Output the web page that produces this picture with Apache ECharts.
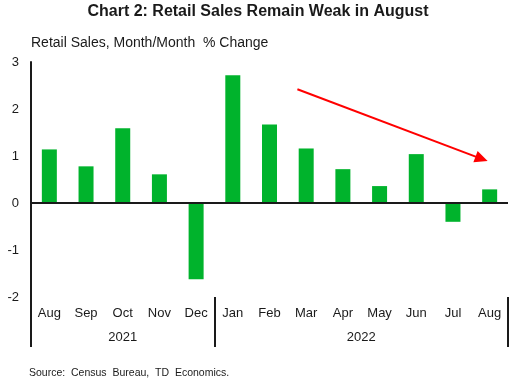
<!DOCTYPE html>
<html>
<head>
<meta charset="utf-8">
<script src="https://cdn.jsdelivr.net/npm/echarts@6/dist/echarts.min.js"></script>
<style>html,body{margin:0;padding:0;background:#fff;}#c{width:516px;height:385px;}</style>
</head>
<body>
<div id="c"></div>
<script>
const months = ['Aug','Sep','Oct','Nov','Dec','Jan','Feb','Mar','Apr','May','Jun','Jul','Aug'];
const values = [1.14, 0.78, 1.59, 0.61, -1.62, 2.72, 1.67, 1.16, 0.72, 0.36, 1.04, -0.40, 0.29];
const years = ['2021', '2022'];
const yearCenters = [2, 8.5];
const yearBounds = [-0.5, 4.5, 12.5];
const arrowStart = [6.76, 2.42];
const arrowEnd = [11.78, 0.94];
const yTicks = { min: -2, max: 3, interval: 1 };

const dark = '#1a1a1a';
const font = 'Arial, "Liberation Sans", sans-serif';
const chart = echarts.init(document.getElementById('c'));
chart.setOption({
  animation: false,
  backgroundColor: '#fff',
  title: [
    { text: 'Chart 2: Retail Sales Remain Weak in August', left: 'center', top: 4, padding: 0,
      textStyle: { fontFamily: font, fontSize: 16, fontWeight: 'bold', color: dark } },
    { text: 'Retail Sales, Month/Month  % Change', left: 31, top: 36, padding: 0,
      textStyle: { fontFamily: font, fontSize: 14, fontWeight: 'normal', color: dark } },
    { text: 'Source:  Census  Bureau,  TD  Economics.', left: 29, top: 368, padding: 0,
      textStyle: { fontFamily: font, fontSize: 10.5, fontWeight: 'normal', color: dark } }
  ],
  grid: { left: 31, right: 8, top: 62, bottom: 88, containLabel: false },
  xAxis: [
    { type: 'category', data: months, position: 'bottom',
      axisLine: { show: false, onZero: false }, axisTick: { show: false },
      axisLabel: { margin: 10, fontFamily: font, fontSize: 13, color: dark } },
    { type: 'value', min: -0.5, max: 12.5, position: 'bottom',
      splitLine: { show: false },
      axisLine: { show: false, onZero: false },
      axisTick: { show: true, customValues: yearBounds, length: 50, inside: false,
        lineStyle: { color: dark, width: 2 } },
      axisLabel: { show: true, customValues: yearCenters, margin: 34,
        fontFamily: font, fontSize: 13, color: dark,
        formatter: function (v) { const i = yearCenters.indexOf(v); return i >= 0 ? years[i] : ''; } } }
  ],
  yAxis: {
    type: 'value', min: yTicks.min, max: yTicks.max, interval: yTicks.interval,
    splitLine: { show: false },
    axisLine: { show: true, onZero: false, lineStyle: { color: dark, width: 2 } },
    axisTick: { show: false },
    axisLabel: { margin: 12, fontFamily: font, fontSize: 13, color: dark }
  },
  series: [
    { type: 'bar', data: values, xAxisIndex: 0, barWidth: 15,
      itemStyle: { color: '#00B32C' },
      markLine: { silent: true, symbol: ['none', 'none'], label: { show: false },
        lineStyle: { color: dark, width: 2, type: 'solid' },
        data: [{ yAxis: 0 }] } },
    { type: 'line', xAxisIndex: 1, data: [arrowStart, arrowEnd], showSymbol: false,
      lineStyle: { opacity: 0 },
      markLine: { silent: true, symbol: ['none', 'triangle'], symbolSize: [12, 13],
        label: { show: false },
        lineStyle: { color: '#FF0000', width: 2, type: 'solid' },
        data: [[{ coord: arrowStart }, { coord: arrowEnd }]] } }
  ]
});
</script>
</body>
</html>
